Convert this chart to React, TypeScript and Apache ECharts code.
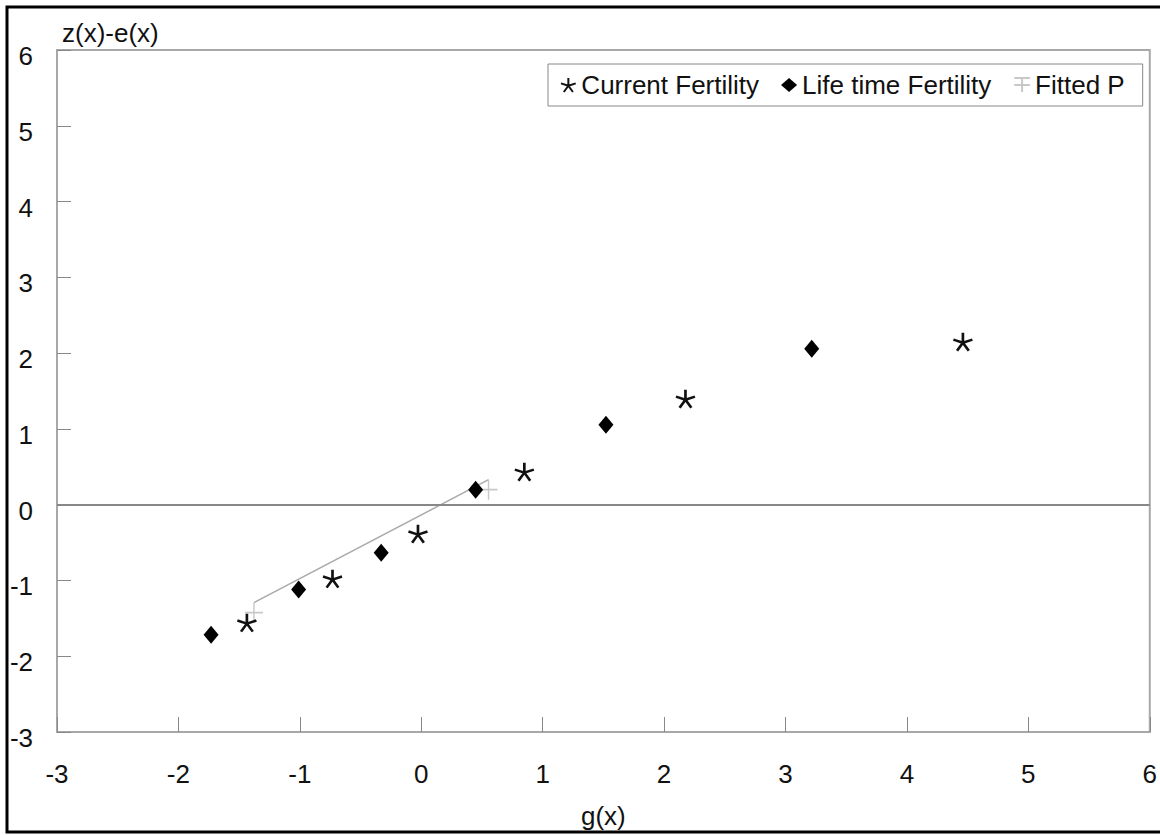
import React, { useEffect, useRef } from "react";
import * as echarts from "echarts";

// Data
const currentFertility: [number, number][] = [
  [-1.436, -1.557],
  [-0.731, -0.976],
  [-0.027, -0.383],
  [0.849, 0.435],
  [2.176, 1.398],
  [4.461, 2.15],
];
const lifetimeFertility: [number, number][] = [
  [-1.731, -1.715],
  [-1.01, -1.121],
  [-0.33, -0.633],
  [0.448, 0.198],
  [1.521, 1.055],
  [3.216, 2.058],
];
const fittedP: [number, number][] = [
  [-1.378, -1.293],
  [0.554, 0.33],
];
const seriesNames = ["Current Fertility", "Life time Fertility", "Fitted P"];
const xTicks = { min: -3, max: 6, interval: 1 };
const yTicks = { min: -3, max: 6, interval: 1 };

const FONT = "'Liberation Sans', Arial, sans-serif";
const FS = 26;
const ASTERISK =
  "path://M10 10L10 0M10 10L19.51 6.91M10 10L15.88 18.09M10 10L4.12 18.09M10 10L0.49 6.91";
const PLUS = "path://M0 10L18 10M9 0L9 20";
const FIT_ICON = "path://M0 2L20 2M0 11L20 11M10 2L10 20";

export default function App() {
  const ref = useRef<HTMLDivElement>(null);
  useEffect(() => {
    if (!ref.current) return;
    const chart = echarts.init(ref.current, null, { renderer: "svg" });
    chart.setOption({
      animation: false,
      backgroundColor: "#fff",
      textStyle: { fontFamily: FONT, color: "#111" },
      grid: {
        left: 57,
        top: 50,
        right: 4,
        bottom: 103,
        show: true,
        borderColor: "#a8a8a8",
        borderWidth: 2,
      },
      legend: {
        left: 548,
        top: 64,
        padding: [8, 18, 8, 12],
        borderColor: "#888",
        borderWidth: 1,
        itemGap: 22,
        itemWidth: 16,
        itemHeight: 14,
        textStyle: { fontFamily: FONT, fontSize: FS, color: "#111" },
        data: [
          { name: seriesNames[0], icon: ASTERISK },
          { name: seriesNames[1], icon: "diamond" },
          { name: seriesNames[2], icon: FIT_ICON },
        ],
      },
      graphic: [
        {
          type: "rect",
          z: 100,
          silent: true,
          shape: { x: 7, y: 7, width: 1170, height: 825 },
          style: { fill: "none", stroke: "#000", lineWidth: 3 },
        },
      ],
      xAxis: {
        type: "value",
        min: xTicks.min,
        max: xTicks.max,
        interval: xTicks.interval,
        name: "g(x)",
        nameLocation: "middle",
        nameGap: 84,
        nameTextStyle: { fontFamily: FONT, fontSize: FS, color: "#111", verticalAlign: "middle" },
        splitLine: { show: false },
        axisLine: { show: true, onZero: false, lineStyle: { color: "#a8a8a8", width: 2 } },
        axisTick: { show: true, inside: true, length: 15, lineStyle: { color: "#888", width: 1 } },
        axisLabel: { fontFamily: FONT, fontSize: FS, color: "#111", margin: 29 },
      },
      yAxis: {
        type: "value",
        min: yTicks.min,
        max: yTicks.max,
        interval: yTicks.interval,
        name: "z(x)-e(x)",
        nameLocation: "end",
        nameGap: 17,
        nameTextStyle: {
          fontFamily: FONT,
          fontSize: FS,
          color: "#111",
          align: "left",
          verticalAlign: "middle",
          padding: [0, 0, 0, 5],
        },
        splitLine: { show: false },
        axisLine: { show: true, onZero: false, lineStyle: { color: "#a8a8a8", width: 2 } },
        axisTick: { show: true, inside: true, length: 14, lineStyle: { color: "#888", width: 1 } },
        axisLabel: {
          fontFamily: FONT,
          fontSize: FS,
          color: "#111",
          margin: 24,
          verticalAlign: "top",
          lineHeight: 12,
        },
      },
      series: [
        {
          name: seriesNames[0],
          type: "scatter",
          data: currentFertility,
          symbol: ASTERISK,
          symbolSize: [19, 18],
          itemStyle: { color: "#111", borderColor: "#111", borderWidth: 2.6, opacity: 1 },
          markLine: {
            silent: true,
            symbol: "none",
            label: { show: false },
            lineStyle: { color: "#888", width: 2, type: "solid" },
            data: [{ yAxis: 0 }],
          },
          z: 3,
        },
        {
          name: seriesNames[1],
          type: "scatter",
          data: lifetimeFertility,
          symbol: "diamond",
          symbolSize: [15, 18],
          itemStyle: { color: "#000", opacity: 1 },
          z: 3,
        },
        {
          name: seriesNames[2],
          type: "line",
          data: fittedP,
          symbol: PLUS,
          symbolSize: [18, 20],
          symbolOffset: [0, 10],
          showSymbol: true,
          lineStyle: { color: "#aaa", width: 1.5 },
          itemStyle: { color: "#c8c8c8", borderColor: "#c8c8c8", borderWidth: 1.5 },
          z: 2,
        },
      ],
    });
    return () => chart.dispose();
  }, []);
  return (
    <div
      ref={ref}
      style={{ position: "absolute", left: 0, top: 0, width: 1160, height: 835 }}
    />
  );
}
